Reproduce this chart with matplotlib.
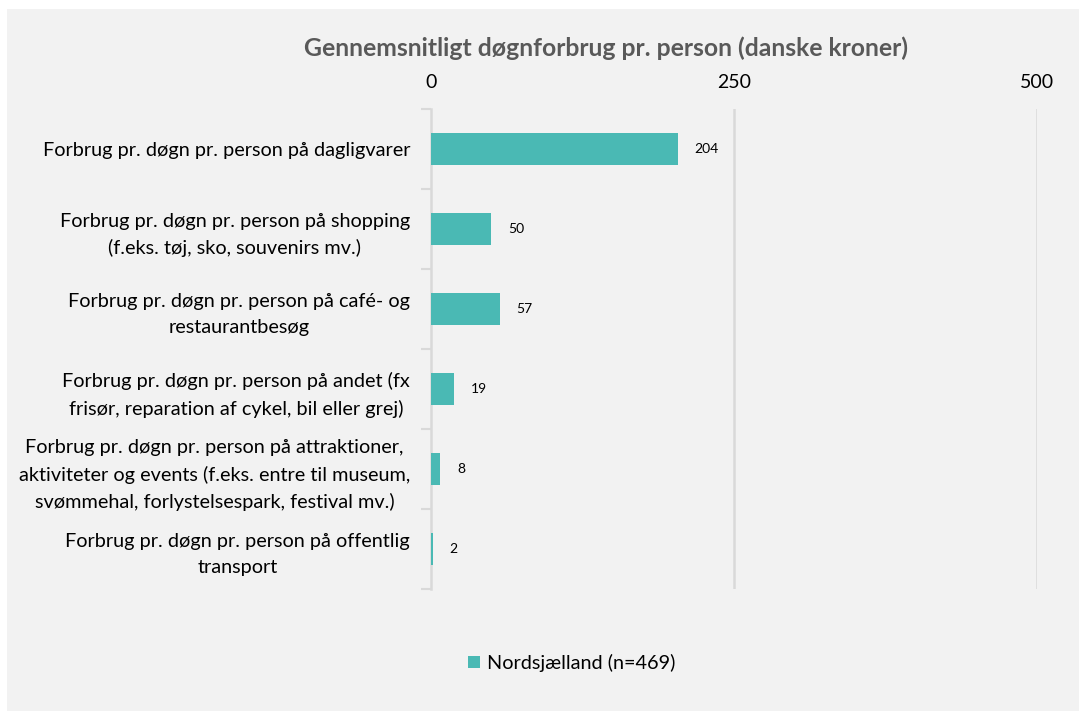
import matplotlib
matplotlib.use("Agg")
import matplotlib.pyplot as plt
from matplotlib.patches import Rectangle
import numpy as np

categories = [
    "Forbrug pr. døgn pr. person på dagligvarer",
    "Forbrug pr. døgn pr. person på shopping\n(f.eks. tøj, sko, souvenirs mv.)",
    "Forbrug pr. døgn pr. person på café- og\nrestaurantbesøg",
    "Forbrug pr. døgn pr. person på andet (fx\nfrisør, reparation af cykel, bil eller grej)",
    "Forbrug pr. døgn pr. person på attraktioner,\naktiviteter og events (f.eks. entre til museum,\nsvømmehal, forlystelsespark, festival mv.)",
    "Forbrug pr. døgn pr. person på offentlig\ntransport",
]
values = [204, 50, 57, 19, 8, 2]
series_name = "Nordsjælland (n=469)"
title = "Gennemsnitligt døgnforbrug pr. person (danske kroner)"
xticks = [0, 250, 500]

plt.rcParams['font.family'] = ['Lato', 'DejaVu Sans']

W, H = 1079, 711
fig = plt.figure(figsize=(W / 100, H / 100), dpi=100)
fig.patch.set_facecolor("white")
fig.patches.append(Rectangle((7 / W, 0), 1 - 7 / W, 1 - 9 / H, transform=fig.transFigure,
                             facecolor="#f2f2f2", edgecolor="none", zorder=-10))

left, right = 430.7 / W, 1037 / W
top, bottom = 1 - 109 / H, 1 - 589 / H
ax = fig.add_axes([left, bottom, right - left, top - bottom])
ax.set_facecolor("none")

bar_color = "#4ab9b4"
grid_color = "#d9d9d9"
y = np.arange(len(categories))
bars = ax.barh(y, values, height=0.41, color=bar_color, label=series_name, zorder=3)
ax.bar_label(bars, labels=[str(v) for v in values], padding=12, fontsize=10, color="#000000")

ax.set_xlim(0, 500)
ax.set_ylim(len(categories) - 0.5, -0.5)
ax.xaxis.tick_top()
ax.set_xticks(xticks)
ax.set_xticklabels([str(t) for t in xticks], fontsize=14, color="#000000")
ax.tick_params(axis="x", length=0, pad=13)
for t in xticks[1:]:
    ax.axvline(t, color=grid_color, lw=1.8, zorder=1)

ax.set_yticks(y)
ax.set_yticklabels(categories, fontsize=14.3, color="#000000", ha="center",
                   multialignment="center", linespacing=1.6)
ax.tick_params(axis="y", which="major", length=0, pad=0)
ax.set_yticks(np.arange(-0.5, len(categories)), minor=True)
ax.tick_params(axis="y", which="minor", length=7, width=1.5, color=grid_color)

for s in ["top", "right", "bottom"]:
    ax.spines[s].set_visible(False)
ax.spines["left"].set_color(grid_color)
ax.spines["left"].set_linewidth(1.8)

fig.canvas.draw()
r = fig.canvas.get_renderer()
# position y tick labels: right edge at x=410 px, centered text
for lab in ax.get_yticklabels():
    bb = lab.get_window_extent(r)
    wpx = bb.width
    lab.set_x((410 - wpx / 2 - left * W) / (W * (right - left)))
    lab.set_transform(matplotlib.transforms.blended_transform_factory(ax.transAxes, ax.transData))
    lab.set_ha("center")

fig.text(606 / W, 1 - 48 / H, title, ha="center", va="center", fontsize=17.8,
         fontweight="bold", color="#595959")

fig.legend(handles=[bars], labels=[series_name], loc="center",
           bbox_to_anchor=(572 / W, 1 - 663 / H), frameon=False, fontsize=14.3,
           handlelength=0.6, handleheight=0.6, handletextpad=0.35)

fig.savefig("out.png", dpi=100, facecolor=fig.get_facecolor())
